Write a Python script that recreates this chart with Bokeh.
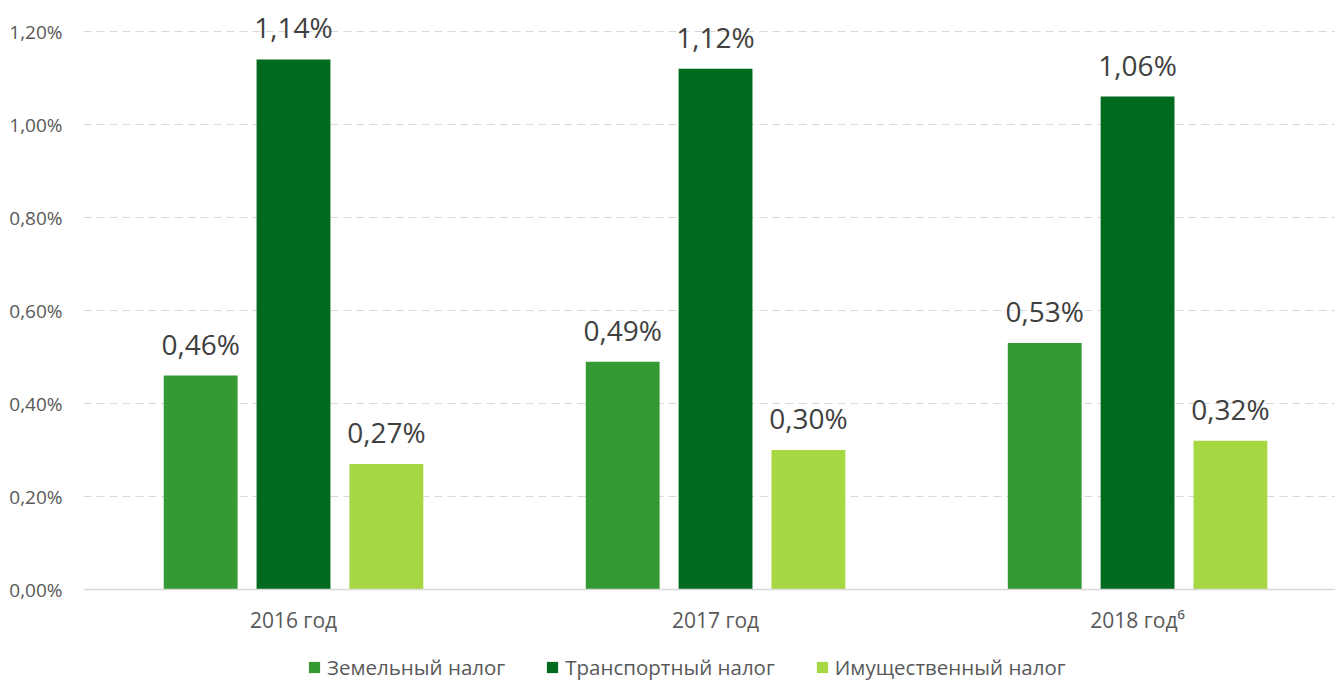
from bokeh.plotting import figure
from bokeh.models import Range1d, FixedTicker, Legend, LegendItem, ColumnDataSource
from bokeh.core.properties import value
from bokeh.embed import file_html
from bokeh.resources import INLINE

categories = ["2016 год", "2017 год", "2018 год⁶"]
series_names = ["Земельный налог", "Транспортный налог", "Имущественный налог"]
land_tax = [0.46, 0.49, 0.53]
transport_tax = [1.14, 1.12, 1.06]
property_tax = [0.27, 0.30, 0.32]
colors = ["#359A33", "#006B1E", "#A6D843"]
y_ticks = [0.0, 0.2, 0.4, 0.6, 0.8, 1.0, 1.2]
y_tick_labels = ["0,00%", "0,20%", "0,40%", "0,60%", "0,80%", "1,00%", "1,20%"]

FONT = "Open Sans"

p = figure(
    width=1335, height=682,
    x_range=Range1d(-0.4976, 2.469), y_range=Range1d(-0.2, 1.2667),
    output_backend="svg", toolbar_location=None,
    min_border_left=83, min_border_right=0, min_border_top=0, min_border_bottom=0,
)
p.outline_line_color = None
p.background_fill_color = "white"
p.border_fill_color = "white"

# axes
p.yaxis.ticker = FixedTicker(ticks=y_ticks)
p.yaxis.major_label_overrides = {t: l for t, l in zip(y_ticks, y_tick_labels)}
p.yaxis.axis_line_color = None
p.yaxis.major_tick_line_color = None
p.yaxis.minor_tick_line_color = None
p.yaxis.major_label_standoff = 15
p.yaxis.major_label_text_font = FONT
p.yaxis.major_label_text_font_size = "19px"
p.yaxis.major_label_text_color = "#595959"

xs = list(range(len(categories)))
p.xaxis.fixed_location = 0
p.xaxis.ticker = FixedTicker(ticks=xs)
p.xaxis.major_label_overrides = {i: c for i, c in zip(xs, categories)}
p.xaxis.axis_line_color = "#D9D9D9"
p.xaxis.axis_line_width = 1.5
p.xaxis.major_tick_line_color = None
p.xaxis.minor_tick_line_color = None
p.xaxis.major_tick_out = 0
p.xaxis.major_tick_in = 0
p.xaxis.major_label_standoff = 16
p.xaxis.major_label_text_font = FONT
p.xaxis.major_label_text_font_size = "21px"
p.xaxis.major_label_text_color = "#595959"

p.xgrid.grid_line_color = None
p.ygrid.grid_line_color = "#D9D9D9"
p.ygrid.grid_line_dash = "8 5"
p.ygrid.grid_line_width = 1

offsets = [-0.22, 0.0, 0.22]
series = [land_tax, transport_tax, property_tax]
items = []
for name, vals, off, col in zip(series_names, series, offsets, colors):
    src = ColumnDataSource(dict(
        x=[i + off for i in xs],
        top=vals,
        label=[("%.2f" % v).replace(".", ",") + "%" for v in vals],
    ))
    r = p.vbar(x="x", top="top", bottom=0, width=0.175, source=src,
               fill_color=col, line_color=None)
    p.text(x="x", y="top", text="label", source=src,
           text_align="center", text_baseline="bottom", y_offset=-13,
           text_font=value(FONT), text_font_size="28px", text_color="#404040")
    items.append(LegendItem(label=name, renderers=[r]))

legend = Legend(items=items, orientation="horizontal", location=(224, 1),
                glyph_width=14, glyph_height=14, label_standoff=6, spacing=40,
                label_text_font=FONT, label_text_font_size="20.5px",
                label_text_color="#595959", border_line_color=None,
                background_fill_alpha=0, padding=0, margin=0)
p.add_layout(legend, "center")

open("out.html", "w").write(file_html(p, INLINE))
